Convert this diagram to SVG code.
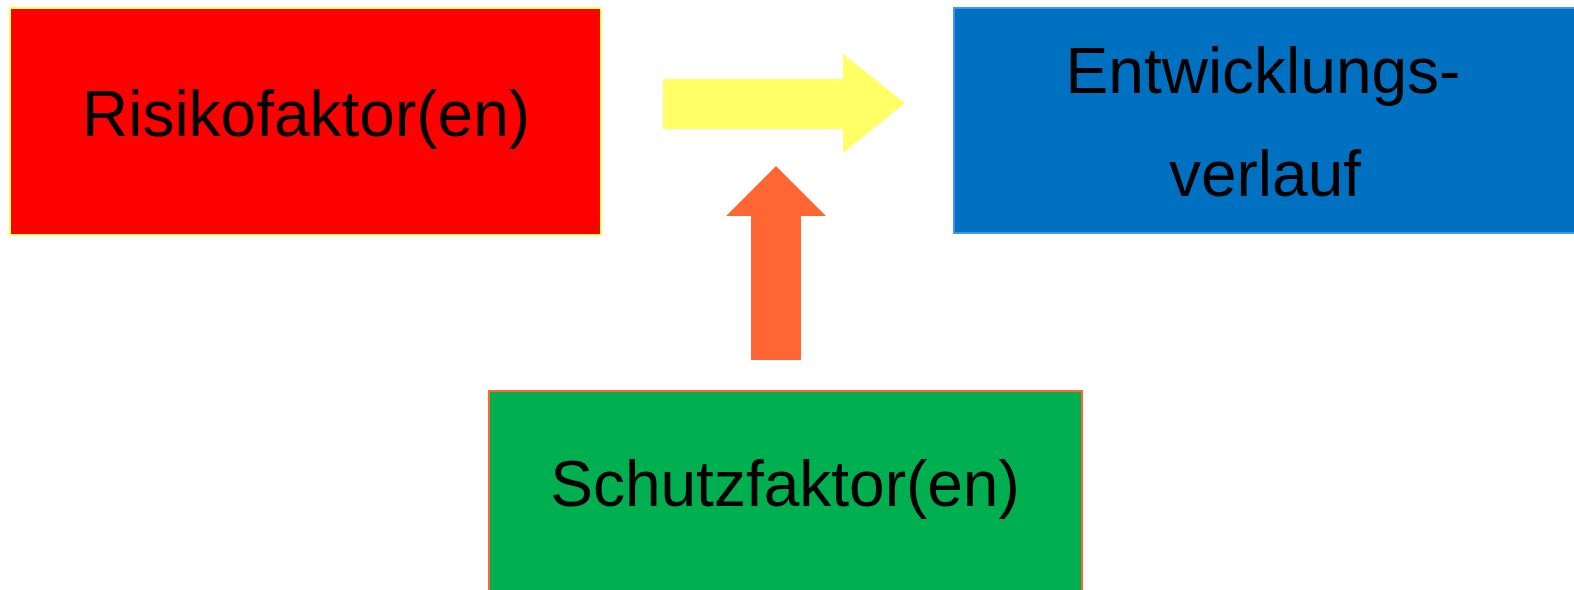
<svg xmlns="http://www.w3.org/2000/svg" width="1574" height="590" viewBox="0 0 1574 590">
<style>
.lbl{font-family:"Liberation Sans",Arial,sans-serif;font-size:64px;fill:#000;text-anchor:middle}
</style>
<rect width="1574" height="590" fill="#fff"/>
<g id="connectors">
<polygon id="arrow-yellow" points="663,79 843,79 843,54 905,103 843,153 843,129 663,129" fill="#FFFF66"/>
<polygon id="arrow-orange" points="751,360 801,360 801,216 826,216 776,166 726,216 751,216" fill="#FF6633"/>
</g>
<g id="risiko">
<rect x="10" y="8" width="591" height="227" fill="#FF0000" stroke="#FFFF66" stroke-width="2"/>
<text class="lbl" x="306" y="136">Risikofaktor(en)</text>
</g>
<g id="entwicklung">
<rect x="954" y="8" width="640" height="225" fill="#0070C0" stroke="#3C97F0" stroke-width="2"/>
<text class="lbl" x="1263" y="93">Entwicklungs-</text>
<text class="lbl" x="1265" y="196">verlauf</text>
</g>
<g id="schutz">
<rect x="489" y="391" width="593" height="300" fill="#00B050" stroke="#FF6633" stroke-width="2"/>
<text class="lbl" x="785" y="506">Schutzfaktor(en)</text>
</g>
</svg>
